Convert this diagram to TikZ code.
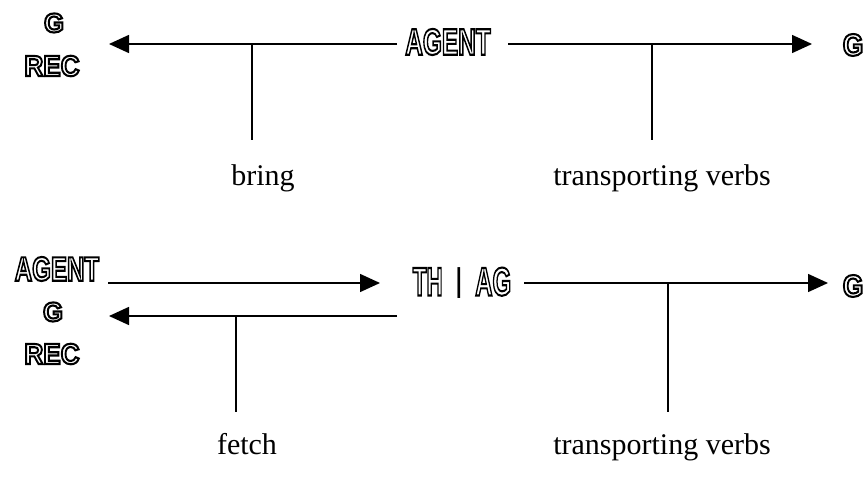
\documentclass[tikz,border=0pt]{standalone}
\usepackage{fontspec}
\setmainfont{Liberation Serif}
\newfontfamily\olfont{Liberation Sans}
\usepackage{graphicx}
\usetikzlibrary{arrows.meta}
\newcommand{\olt}[3]{\scalebox{#1}[1]{\fontsize{#2}{#2}\selectfont\olfont\bfseries\special{pdf:literal 1 Tr 2.1 w}#3\special{pdf:literal 0 Tr}}}
\tikzset{
  arr/.style={line width=1.5pt, -{Triangle[length=20pt,width=18pt]}},
  ln/.style={line width=1.5pt},
  ol/.style={inner sep=0pt, anchor=center},
  word/.style={inner sep=0pt, anchor=base, font=\fontsize{30}{30}\selectfont}
}
\begin{document}
\begin{tikzpicture}[x=1pt,y=-1pt]
\useasboundingbox[fill=white] (0,0) rectangle (866,486);
% ---- top row
\node[ol] (gL1) at (54,23) {\olt{0.95}{27}{G}};
\node[ol] (recL1) at (52,66) {\olt{0.9}{29}{REC}};
\node[ol] (agent1) at (448,42) {\olt{0.66}{37}{AGENT}};
\node[ol] (gR1) at (853,45) {\olt{0.85}{31}{G}};
\coordinate (t1l) at (109,44);
\coordinate (a1w) at (397,44);
\coordinate (a1e) at (508,44);
\coordinate (t1r) at (812,44);
\draw[arr] (a1w) -- (t1l);
\draw[arr] (a1e) -- (t1r);
\coordinate (j1) at (252,44);
\coordinate (j1b) at (252,140);
\coordinate (j2) at (652,44);
\coordinate (j2b) at (652,140);
\draw[ln] (j1) -- (j1b);
\draw[ln] (j2) -- (j2b);
\node[word] (bring) at (263,186) {bring};
\node[word] (tv1) at (662,186) {transporting verbs};
% ---- bottom row
\node[ol] (agent2) at (57,269) {\olt{0.71}{34}{AGENT}};
\node[ol] (gL2) at (53,312) {\olt{0.95}{27}{G}};
\node[ol] (recL2) at (52,354) {\olt{0.9}{29}{REC}};
\node[ol] (thag) at (462,283) {\olt{0.56}{40}{TH}\hspace{12pt}\raisebox{4pt}{\fontsize{33}{33}\selectfont\olfont |}\hspace{12pt}\olt{0.6}{40}{AG}};
\node[ol] (gR2) at (853,286) {\olt{0.85}{31}{G}};
\coordinate (s1) at (108,283);
\coordinate (t2r) at (380,283);
\coordinate (s2) at (524,283);
\coordinate (t3r) at (828,283);
\coordinate (s3) at (397,316);
\coordinate (t2l) at (109,316);
\draw[arr] (s1) -- (t2r);
\draw[arr] (s2) -- (t3r);
\draw[arr] (s3) -- (t2l);
\coordinate (j3) at (236,316);
\coordinate (j3b) at (236,412);
\coordinate (j4) at (668,283);
\coordinate (j4b) at (668,412);
\draw[ln] (j3) -- (j3b);
\draw[ln] (j4) -- (j4b);
\node[word] (fetch) at (247,454) {fetch};
\node[word] (tv2) at (662,454) {transporting verbs};
\end{tikzpicture}
\end{document}
